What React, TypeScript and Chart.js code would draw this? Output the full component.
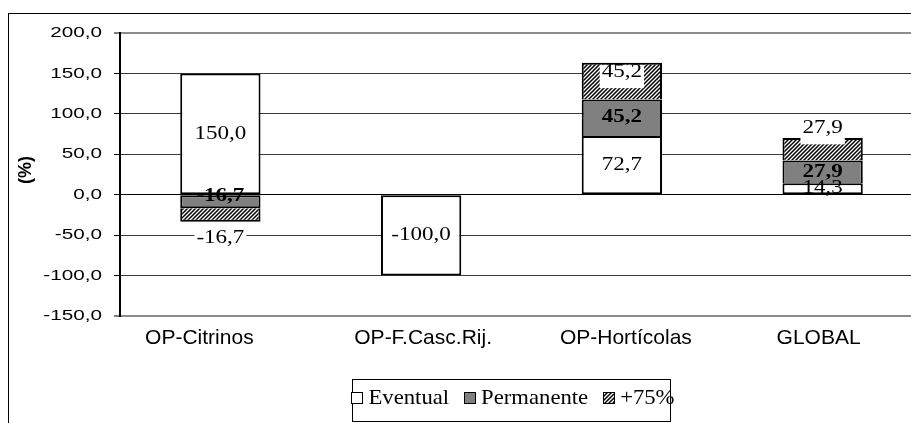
import React, { useEffect, useRef } from 'react';
import { Chart, registerables } from 'chart.js';

Chart.register(...registerables);

// ---- data ----
const categories = ['OP-Citrinos', 'OP-F.Casc.Rij.', 'OP-Hortícolas', 'GLOBAL'];
const seriesNames = ['Eventual', 'Permanente', '+75%'];
const eventual: (number | null)[] = [150.0, -100.0, 72.7, 14.3];
const permanente: (number | null)[] = [-16.7, null, 45.2, 27.9];
const mais75: (number | null)[] = [-16.7, null, 45.2, 27.9];
const yMin = -150;
const yMax = 200;
const yStep = 50;
const yTitle = '(%)';

// ---- styles ----
const CANVAS_W = 928;
const CANVAS_H = 440;
const SERIF = 'Liberation Serif';
const SANS = 'Liberation Sans';
const LABEL_SIZE = 18;
const LABEL_SCALE_X = 1.28;
const LABEL_STYLE = [
  { bold: false, bg: false, shift: [0, 0, 0, 0] },
  { bold: true, bg: false, shift: [-5, 0, 0, 0] },
  { bold: false, bg: true, shift: [23, 0, -9, -21] },
];
const X_LABEL_NUDGE = [-21, 2, 4, -4];
const LEGEND = { centerX: 513, top: 379, width: 318, height: 42, textY: 19, box: 12, gap: 5, itemGap: 15, size: 21, scaleX: 1.08 };

const fmt = (v: number) => v.toFixed(1).replace('.', ',');

const allSeries = [eventual, permanente, mais75];
function stackedOnOther(di: number, i: number) {
  const v = allSeries[di][i];
  if (v == null) return false;
  for (let k = 0; k < di; k++) {
    const w = allSeries[k][i];
    if (w != null && w !== 0 && Math.sign(w) === Math.sign(v)) return true;
  }
  return false;
}

function makeHatch(main: CanvasRenderingContext2D) {
  const c = document.createElement('canvas');
  c.width = 4;
  c.height = 4;
  const g = c.getContext('2d')!;
  g.fillStyle = '#fff';
  g.fillRect(0, 0, 4, 4);
  g.strokeStyle = '#000';
  g.lineWidth = 1.5;
  g.beginPath();
  g.moveTo(-1, 5); g.lineTo(5, -1);
  g.moveTo(-1, 1); g.lineTo(1, -1);
  g.moveTo(3, 5); g.lineTo(5, 3);
  g.stroke();
  return main.createPattern(c, 'repeat') as CanvasPattern;
}

function drawScaled(ctx: CanvasRenderingContext2D, text: string, x: number, y: number, sx: number, align: CanvasTextAlign) {
  ctx.save();
  ctx.translate(x, y);
  ctx.scale(sx, 1);
  ctx.textAlign = align;
  ctx.textBaseline = 'middle';
  ctx.fillStyle = '#000';
  ctx.fillText(text, 0, 0);
  ctx.restore();
}

const labelPlugin = {
  id: 'barLabels',
  afterDatasetsDraw(chart: any) {
    const ctx: CanvasRenderingContext2D = chart.ctx;
    ctx.save();
    chart.data.datasets.forEach((ds: any, di: number) => {
      const meta = chart.getDatasetMeta(di);
      const st = LABEL_STYLE[di];
      meta.data.forEach((el: any, i: number) => {
        const v = ds.data[i];
        if (v == null) return;
        const { x, y, base } = el.getProps(['x', 'y', 'base'], true);
        const cy = (y + base) / 2 + st.shift[i];
        const txt = fmt(v);
        ctx.font = `${st.bold ? 'bold ' : ''}${LABEL_SIZE}px "${SERIF}"`;
        const w = ctx.measureText(txt).width * LABEL_SCALE_X;
        if (st.bg) {
          ctx.fillStyle = '#fff';
          ctx.fillRect(x - w / 2 - 2, cy - 7, w + 4, 23);
        }
        drawScaled(ctx, txt, x, cy, LABEL_SCALE_X, 'center');
      });
    });
    ctx.restore();
  },
};

const axisTextPlugin = {
  id: 'axisText',
  afterDraw(chart: any) {
    const ctx: CanvasRenderingContext2D = chart.ctx;
    const ys = chart.scales.y;
    const xs = chart.scales.x;
    const ca = chart.chartArea;
    ctx.save();
    ctx.font = `15px "${SANS}"`;
    ys.ticks.forEach((t: any) => {
      drawScaled(ctx, fmt(t.value), ca.left - 18, ys.getPixelForValue(t.value), 1.38, 'right');
    });
    ctx.font = `21px "${SANS}"`;
    categories.forEach((c, i) => {
      drawScaled(ctx, c, xs.getPixelForValue(i) + X_LABEL_NUDGE[i], ca.bottom + 22, 1, 'center');
    });
    ctx.font = `bold 18px "${SANS}"`;
    ctx.translate(26, (ca.top + ca.bottom) / 2 - 4.5);
    ctx.rotate(-Math.PI / 2);
    ctx.textAlign = 'center';
    ctx.textBaseline = 'middle';
    ctx.fillStyle = '#000';
    ctx.fillText(yTitle, 0, 0);
    ctx.restore();
  },
};

const framePlugin = {
  id: 'frameLegend',
  afterDraw(chart: any) {
    const ctx: CanvasRenderingContext2D = chart.ctx;
    ctx.save();
    ctx.strokeStyle = '#000';
    ctx.lineWidth = 1;
    ctx.strokeRect(8.5, 13.5, 4000, 4000);
    const L = LEGEND;
    ctx.font = `${L.size}px "${SERIF}"`;
    const items = chart.data.datasets.map((ds: any) => ({
      label: ds.label,
      fill: ds.backgroundColor,
      w: ctx.measureText(ds.label).width * L.scaleX,
    }));
    const total = items.reduce((s: number, it: any) => s + L.box + L.gap + it.w, 0) + L.itemGap * (items.length - 1);
    const left = Math.round(511 - L.width / 2);
    ctx.fillStyle = '#fff';
    ctx.fillRect(left, L.top, L.width, L.height);
    ctx.strokeStyle = '#000';
    ctx.strokeRect(left + 0.5, L.top + 0.5, L.width, L.height);
    let x = L.centerX - total / 2;
    const cy = L.top + L.textY;
    items.forEach((it: any) => {
      const bx = Math.round(x);
      const by = Math.round(cy - L.box / 2);
      ctx.fillStyle = it.fill;
      ctx.fillRect(bx, by, L.box, L.box);
      ctx.strokeStyle = '#000';
      ctx.lineWidth = 1;
      ctx.strokeRect(bx + 0.5, by + 0.5, L.box - 1, L.box - 1);
      x += L.box + L.gap;
      drawScaled(ctx, it.label, x, cy, L.scaleX, 'left');
      x += it.w + L.itemGap;
    });
    ctx.restore();
  },
};

const isBorderTick = (c: any) => c.tick && (c.tick.value === yMax || c.tick.value === yMin);

export default function App() {
  const ref = useRef<HTMLCanvasElement | null>(null);

  useEffect(() => {
    const canvas = ref.current!;
    const main = canvas.getContext('2d')!;
    const hatch = makeHatch(main);
    const fills = ['#ffffff', '#808080', hatch];
    const chart = new Chart(canvas, {
      type: 'bar',
      data: {
        labels: categories,
        datasets: allSeries.map((d, di) => ({
          label: seriesNames[di],
          data: d,
          backgroundColor: fills[di],
          borderColor: '#000',
          borderWidth: 2,
          borderSkipped: (c: any) => (stackedOnOther(di, c.dataIndex) ? 'start' : false),
          barPercentage: 0.4,
          categoryPercentage: 1.0,
          stack: 's',
        })) as any,
      },
      plugins: [labelPlugin, axisTextPlugin, framePlugin],
      options: {
        responsive: false,
        animation: false,
        devicePixelRatio: 1,
        layout: { padding: { left: 8, top: 33, right: 5, bottom: 64 } },
        plugins: {
          legend: { display: false },
          tooltip: { enabled: false },
        },
        scales: {
          x: {
            type: 'category',
            stacked: true,
            offset: true,
            grid: { display: false },
            border: { display: false },
            ticks: { display: false },
            afterFit: (s: any) => { s.height = 60; },
          },
          y: {
            stacked: true,
            min: yMin,
            max: yMax,
            ticks: { stepSize: yStep, display: false },
            grid: {
              color: (c: any) => (isBorderTick(c) ? '#8c8c8c' : c.tick && c.tick.value === 0 ? '#000' : '#3a3a3a'),
              lineWidth: (c: any) => (isBorderTick(c) ? 2 : 1),
              tickColor: '#000',
              tickWidth: 1,
              tickLength: 6,
              drawTicks: true,
            },
            border: { display: true, color: '#000', width: 2 },
            title: { display: false },
            afterFit: (s: any) => { s.width = 112; },
          },
        },
      } as any,
    });
    return () => chart.destroy();
  }, []);

  return (
    <div style={{ position: 'absolute', left: 0, top: 0, width: 911, height: 423, overflow: 'hidden', background: '#fff' }}>
      <canvas ref={ref} width={CANVAS_W} height={CANVAS_H} style={{ display: 'block', width: CANVAS_W, height: CANVAS_H }} />
    </div>
  );
}
